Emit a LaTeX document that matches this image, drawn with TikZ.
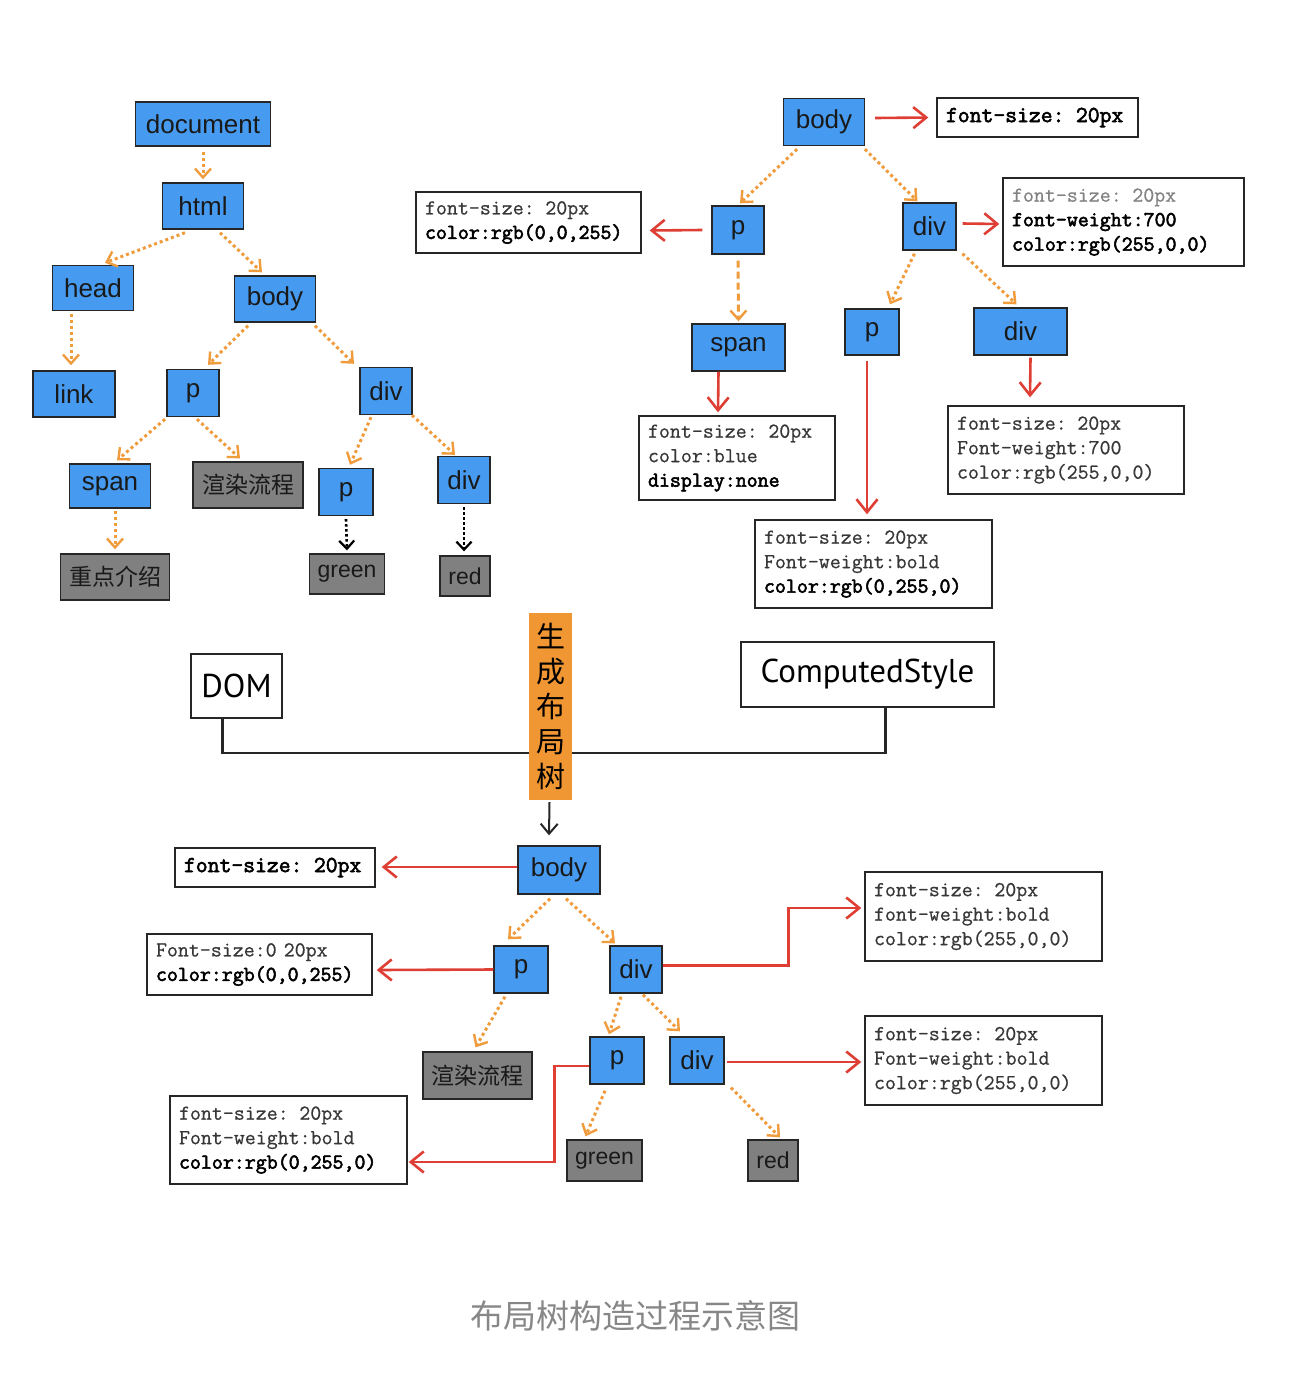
\documentclass[tikz,border=0pt]{standalone}
\usepackage{fontspec}
\setmainfont{Liberation Sans}
\newfontfamily\cjkf{Noto Sans CJK SC}
\newfontfamily\handf{PT Sans}
\newfontfamily\monof{Latin Modern Mono}[FakeBold=0.6,BoldFont={Latin Modern Mono},BoldFeatures={FakeBold=2.6}]
\usetikzlibrary{arrows.meta}
\definecolor{nblue}{RGB}{70,155,240}
\definecolor{ngray}{RGB}{128,128,128}
\definecolor{ocol}{RGB}{240,155,60}
\definecolor{rcol}{RGB}{222,62,52}
\definecolor{obox}{RGB}{240,150,50}
\definecolor{capgray}{RGB}{135,135,135}
\definecolor{lgray}{RGB}{130,130,130}
\definecolor{dgray}{RGB}{55,55,55}
\begin{document}
\begin{tikzpicture}[x=1pt,y=-1pt,
  sz/.style 2 args={minimum width=#1,minimum height=#2},
  bn/.style={draw=black!85,line width=1.4pt,fill=nblue,inner sep=0pt,text=black!90,font=\fontsize{26}{26}\selectfont},
  gn/.style={bn,fill=ngray,font=\fontsize{23}{23}\selectfont},
  gcn/.style={bn,fill=ngray,font=\cjkf\fontsize{23}{23}\selectfont},
  sb/.style={draw=black!85,line width=1.4pt,fill=white,inner xsep=9pt,inner ysep=0pt,align=left,text=dgray,font=\monof\fontsize{21.3}{24.5}\selectfont},
  sb1/.style={sb,font=\monof\bfseries\fontsize{23}{24}\selectfont,text=black},
  hb/.style={draw=black!85,line width=1.4pt,fill=white,inner sep=0pt,text=black,font=\handf\fontsize{33}{33}\selectfont},
  oa/.style={draw=ocol,line width=3pt,dash pattern=on 3pt off 3pt,-{Straight Barb[length=9pt,width=16pt,line width=2.4pt]}},
  oda/.style={draw=ocol,line width=3pt,dash pattern=on 7pt off 4pt,-{Straight Barb[length=9pt,width=16pt,line width=2.4pt]}},
  ka/.style={draw=black,line width=2.6pt,dash pattern=on 2.5pt off 2.5pt,-{Straight Barb[length=8pt,width=15pt,line width=2.2pt]}},
  ra/.style={draw=rcol,line width=2.6pt,-{Straight Barb[length=13pt,width=21pt]}},
  conn/.style={draw=black!85,line width=2.2pt},
  ka2/.style={draw=black!85,line width=2pt,-{Straight Barb[length=10pt,width=17pt]}}
]
\useasboundingbox[fill=white] (0,0) rectangle (1308,1374);

% ---------- DOM tree (top left) ----------
\node[bn,sz={135pt}{44pt}] (doc) at (203,124) {document};
\node[bn,sz={81pt}{46pt}] (html) at (203,206) {html};
\node[bn,sz={81pt}{45pt}] (head) at (93,288) {head};
\node[bn,sz={81pt}{46pt}] (body) at (275,299) {body};
\node[bn,sz={82pt}{46pt}] (link) at (74,394) {link};
\node[bn,sz={52pt}{47pt}] (p) at (193,393) {p};
\node[bn,sz={52pt}{47pt}] (div) at (386,391) {div};
\node[bn,sz={81pt}{44pt}] (span) at (110,486) {span};
\node[gcn,sz={110pt}{46pt}] (xr) at (248,485) {渲染流程};
\node[bn,sz={54pt}{47pt}] (pp) at (346,492) {p};
\node[bn,sz={52pt}{47pt}] (dd) at (464,480) {div};
\node[gcn,sz={109pt}{46pt}] (zd) at (115,577) {重点介绍};
\node[gn,sz={75pt}{40pt}] (green) at (347,574) {green};
\node[gn,sz={50pt}{40pt}] (red) at (465,576) {red};

\draw[oa] ([shift={(0,5)}]doc.south) -- ([shift={(0,-3)}]html.north);
\draw[oa] ([shift={(-18,3)}]html.south) -- ([shift={(12,-2)}]head.north);
\draw[oa] ([shift={(17,3)}]html.south) -- ([shift={(-13,-3)}]body.north);
\draw[oa] ([shift={(-22,3)}]head.south) -- ([shift={(-3,-5)}]link.north);
\draw[oa] ([shift={(-27,3)}]body.south) -- ([shift={(15,-4)}]p.north);
\draw[oa] ([shift={(40,3)}]body.south) -- ([shift={(-32,-3)}]div.north);
\draw[oa] ([shift={(-28,2)}]p.south) -- ([shift={(7,-3)}]span.north);
\draw[oa] ([shift={(4,2)}]p.south) -- ([shift={(-8,-3)}]xr.north);
\draw[oa] ([shift={(-15,2)}]div.south) -- ([shift={(4,-3)}]pp.north);
\draw[oa] ([shift={(26,0)}]div.south) -- ([shift={(-9,-1)}]dd.north);
\draw[oa] ([shift={(5,2)}]span.south) -- ([shift={(0,-4)}]zd.north);
\draw[ka] ([shift={(0,3)}]pp.south) -- ([shift={(0,-3)}]green.north);
\draw[ka] ([shift={(0,3)}]dd.south) -- ([shift={(-1,-4)}]red.north);

% ---------- Style tree (top right) ----------
\node[bn,sz={81pt}{47pt}] (bodyR) at (824,122) {body};
\node[sb1,minimum height=39pt,text width=183pt] (fsR) at (1037.5,117.5) {font-size: 20px};
\node[bn,sz={52pt}{48pt}] (pR) at (738,230) {p};
\node[sb,minimum height=61pt,text width=207pt] (pRs) at (528.5,222.5) {font-size: 20px\\\textbf{\color{black}color:rgb(0,0,255)}};
\node[bn,sz={53pt}{47pt}] (divR) at (929.5,226.5) {div};
\node[sb,minimum height=88pt,text width=223pt] (divRs) at (1123.5,222) {\textcolor{lgray}{font-size: 20px}\\\textbf{\color{black}font-weight:700}\\\textbf{\color{black}color:rgb(255,0,0)}};
\node[bn,sz={93pt}{47pt}] (spanR) at (738.5,347.5) {span};
\node[sb,minimum height=84pt,text width=178pt] (spanRs) at (737,458) {font-size: 20px\\color:blue\\\textbf{\color{black}display:none}};
\node[bn,sz={54pt}{46pt}] (pR2) at (872,332) {p};
\node[bn,sz={93pt}{47pt}] (divR2) at (1020.5,331.5) {div};
\node[sb,minimum height=88pt,text width=218pt] (divR2s) at (1066,450) {font-size: 20px\\Font-weight:700\\color:rgb(255,0,0)};
\node[sb,minimum height=88pt,text width=219pt] (pR2s) at (873.5,564) {font-size: 20px\\Font-weight:bold\\\textbf{\color{black}color:rgb(0,255,0)}};

\draw[ra] ([shift={(10,-4)}]bodyR.east) -- ([xshift=-8]fsR.west);
\draw[ra] ([xshift=-9]pR.west) -- ([shift={(8,8)}]pRs.east);
\draw[oa] ([shift={(-27,3)}]bodyR.south) -- ([shift={(2,-2)}]pR.north);
\draw[oa] ([shift={(41,3)}]bodyR.south) -- ([shift={(-12,-1)}]divR.north);
\draw[ra] ([shift={(6,-3)}]divR.east) -- ([shift={(-3,2)}]divRs.west);
\draw[oda] ([shift={(0,6)}]pR.south) -- ([shift={(0,-2)}]spanR.north);
\draw[oa] ([shift={(-15,3)}]divR.south) -- ([shift={(18,-4)}]pR2.north);
\draw[oa] ([shift={(33,3)}]divR.south) -- ([shift={(-4,-3)}]divR2.north);
\draw[ra] ([xshift=-20]spanR.south) -- ([shift={(-19,-3)}]spanRs.north);
\draw[ra] ([shift={(-5,5)}]pR2.south) -- ([shift={(-6.5,-5)}]pR2s.north);
\draw[ra] ([shift={(10,2)}]divR2.south) -- ([shift={(-36,-8)}]divR2s.north);

% ---------- Middle ----------
\node[hb,sz={91pt}{64pt}] (dom) at (236.5,686) {DOM};
\node[hb,sz={253pt}{65pt}] (cs) at (867.5,674.5) {ComputedStyle};
\draw[conn] ([xshift=-14]dom.south) -- ++(0,34) -| ([xshift=18]cs.south);
\node[fill=obox,sz={43pt}{187pt},inner sep=0pt,align=center,text=black,font=\cjkf\fontsize{29}{35}\selectfont] (gen) at (550.5,706.5) {生\\成\\布\\局\\树};

% ---------- Layout tree (bottom) ----------
\node[bn,sz={82pt}{48pt}] (bodyB) at (559,870) {body};
\draw[ka2] ([shift={(-1,2)}]gen.south) -- ([shift={(-10,-10)}]bodyB.north);
\node[sb1,minimum height=39pt,text width=182pt] (fsB) at (275,867.5) {font-size: 20px};
\node[bn,sz={54pt}{47pt}] (pB) at (521,969.5) {p};
\node[sb,minimum height=61pt,text width=207pt] (pBs) at (259.5,964.5) {Font-size:0 20px\\\textbf{\color{black}color:rgb(0,0,255)}};
\node[bn,sz={52pt}{47pt}] (divB) at (636,969.5) {div};
\node[sb,minimum height=89pt,text width=219pt] (divBs) at (983.5,916.5) {font-size: 20px\\font-weight:bold\\color:rgb(255,0,0)};
\node[gcn,sz={109pt}{47pt}] (xrB) at (477.5,1075.5) {渲染流程};
\node[bn,sz={54pt}{47pt}] (pB2) at (617,1060.5) {p};
\node[bn,sz={54pt}{47pt}] (divB2) at (697,1060.5) {div};
\node[sb,minimum height=89pt,text width=219pt] (divB2s) at (983.5,1060.5) {font-size: 20px\\Font-weight:bold\\color:rgb(255,0,0)};
\node[gn,sz={75pt}{41pt}] (greenB) at (604.5,1160.5) {green};
\node[gn,sz={50pt}{41pt}] (redB) at (773,1160.5) {red};
\node[sb,minimum height=88pt,text width=219pt] (pB2s) at (288.5,1140) {font-size: 20px\\Font-weight:bold\\\textbf{\color{black}color:rgb(0,255,0)}};

\draw[ra] ([shift={(0,-3)}]bodyB.west) -- ([shift={(6,-0.5)}]fsB.east);
\draw[oa] ([shift={(-9,4)}]bodyB.south) -- ([shift={(-13,-6)}]pB.north);
\draw[oa] ([shift={(7,4)}]bodyB.south) -- ([shift={(-21,-2)}]divB.north);
\draw[ra] (pB.west) -- ([shift={(4,5.5)}]pBs.east);
\draw[ra] ([shift={(0,-4)}]divB.east) -- ++(126,0) |- ([shift={(-3,-8.5)}]divBs.west);
\draw[oa] ([shift={(-16,3)}]pB.south) -- ([shift={(-2,-4)}]xrB.north);
\draw[oa] ([shift={(-15,3)}]divB.south) -- ([shift={(-8,-2)}]pB2.north);
\draw[oa] ([shift={(7,1)}]divB.south) -- ([shift={(-17,-5)}]divB2.north);
\draw[ra] ([shift={(0,5.5)}]pB2.west) -- ++(-35,0) |- ([shift={(1,22)}]pB2s.east);
\draw[oa] ([shift={(-12,6)}]pB2.south) -- ([shift={(-19,-3)}]greenB.north);
\draw[ra] ([shift={(2,1.5)}]divB2.east) -- ([shift={(-3,1.5)}]divB2s.west);
\draw[oa] ([shift={(34,3)}]divB2.south) -- ([shift={(7,-2)}]redB.north);

% ---------- Caption ----------
\node[text=capgray,font=\cjkf\fontsize{33}{33}\selectfont] (cap) at (635,1316) {布局树构造过程示意图};
\end{tikzpicture}
\end{document}
